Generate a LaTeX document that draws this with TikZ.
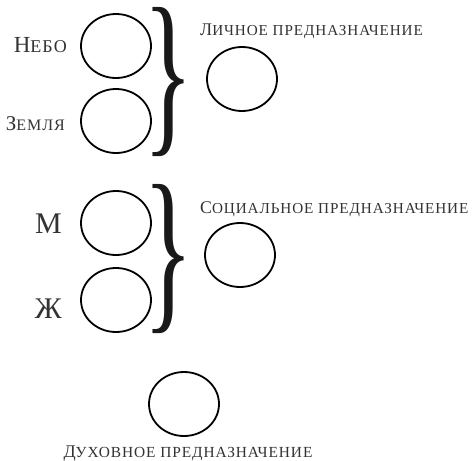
\documentclass[tikz,border=0pt]{standalone}
\usepackage{fontspec}
\setmainfont{Liberation Serif}
\newfontfamily\spacedfont{Liberation Serif}[LetterSpace=6]
\usetikzlibrary{shapes.geometric}
% first letter big, the rest in smaller capitals
\newcommand{\scword}[4]{{\fontsize{#1}{#1}\selectfont #3}{\fontsize{#2}{#2}\selectfont #4}}

\begin{document}
\begin{tikzpicture}[line cap=round,line join=round,x=1pt,y=-1pt,
  ring/.style={draw,ellipse,line width=1.8pt,minimum width=70pt,minimum height=64pt,inner sep=0pt},
  curly/.style={inner sep=0pt,text=black!90},
  word/.style={inner sep=0pt,text=black!80,font=\spacedfont}]
\useasboundingbox (0,0) rectangle (472,461);
% personal
\node [ring] (nebo) at (116,46) {};
\node [ring] (zemlya) at (116,121) {};
\node [curly] (brace1) at (169,82) {\resizebox*{50pt}{149pt}{\}}};
\node [ring] (lichnoe) at (242,79) {};
\node [word,anchor=base east] (nebotxt) at (67,52) {\scword{23}{18}{Н}{ЕБО}};
\node [word,anchor=base east] (zemlyatxt) at (65,130) {\scword{21}{16}{З}{ЕМЛЯ}};
\node [word,anchor=base west] (lichnoetxt) at (200,35) {\scword{17.8}{15.2}{Л}{ИЧНОЕ ПРЕДНАЗНАЧЕНИЕ}};
% social
\node [ring] (m) at (116,223) {};
\node [ring] (zh) at (116,300) {};
\node [curly] (brace2) at (169,259) {\resizebox*{50pt}{149pt}{\}}};
\node [ring] (socialnoe) at (240,255) {};
\node [word,anchor=base east] (mtxt) at (62,233) {\fontsize{30}{30}\selectfont М};
\node [word,anchor=base east] (zhtxt) at (62,318) {\fontsize{30}{30}\selectfont Ж};
\node [word,anchor=base west] (socialnoetxt) at (200,213) {\scword{17.8}{15.2}{С}{ОЦИАЛЬНОЕ ПРЕДНАЗНАЧЕНИЕ}};
% spiritual
\node [ring] (duhovnoe) at (184,404) {};
\node [word,anchor=base] (duhovnoetxt) at (188,457) {\scword{17.8}{15.4}{Д}{УХОВНОЕ ПРЕДНАЗНАЧЕНИЕ}};
\end{tikzpicture}
\end{document}
